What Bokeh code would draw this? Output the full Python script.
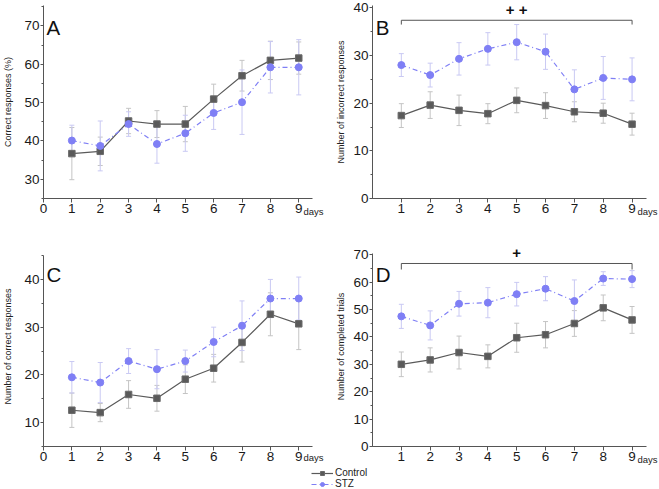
from bokeh.plotting import figure
from bokeh.layouts import column, row
from bokeh.models import (Range1d, FixedTicker, SingleIntervalTicker, Whisker, TeeHead,
                          ColumnDataSource, Label, Legend, LegendItem)
from bokeh.embed import file_html
from bokeh.resources import INLINE

# ---------------- data ----------------
days = [1, 2, 3, 4, 5, 6, 7, 8, 9]

a_control = [36.7, 37.3, 45.2, 44.4, 44.4, 50.9, 57.0, 61.0, 61.6]
a_control_err = [6.8, 3.7, 3.3, 3.5, 4.6, 3.9, 4.0, 5.0, 4.2]
a_stz = [40.1, 38.7, 44.4, 39.2, 42.0, 47.3, 50.1, 59.2, 59.2]
a_stz_err = [4.0, 6.5, 3.2, 5.0, 4.7, 4.3, 8.4, 6.7, 7.2]

b_control = [17.4, 19.6, 18.5, 17.8, 20.6, 19.5, 18.2, 17.9, 15.6]
b_control_err = [2.5, 2.8, 3.2, 2.1, 2.6, 2.7, 2.1, 2.1, 2.3]
b_stz = [28.0, 25.9, 29.3, 31.4, 32.8, 30.8, 22.9, 25.3, 25.0]
b_stz_err = [2.4, 2.5, 3.4, 3.4, 3.7, 3.7, 4.1, 4.5, 4.5]

c_control = [12.6, 12.1, 15.9, 15.1, 19.1, 21.4, 26.8, 32.7, 30.7]
c_control_err = [3.6, 1.9, 2.9, 2.7, 3.0, 2.9, 4.1, 4.5, 5.4]
c_stz = [19.5, 18.4, 22.9, 21.2, 22.9, 26.9, 30.3, 36.0, 36.0]
c_stz_err = [3.3, 4.2, 2.6, 4.1, 2.3, 3.1, 5.2, 4.0, 4.5]

d_control = [30.0, 31.6, 34.3, 32.9, 39.7, 40.8, 44.9, 50.6, 46.2]
d_control_err = [4.5, 4.4, 6.0, 4.2, 5.3, 4.8, 4.7, 4.7, 4.9]
d_stz = [47.5, 44.2, 52.1, 52.5, 55.6, 57.6, 53.1, 61.3, 61.1]
d_stz_err = [4.4, 5.3, 4.5, 5.5, 4.3, 4.4, 7.7, 2.5, 3.1]

series_names = ["Control", "STZ"]
y_titles = ["Correct responses (%)", "Number of incorrect responses",
            "Number of correct responses", "Number of completed trials"]
x_ticks_full = [0, 1, 2, 3, 4, 5, 6, 7, 8, 9]
x_ticks_days = [1, 2, 3, 4, 5, 6, 7, 8, 9]
x_label = "days"

bracket_days = [1, 9]
b_bracket = (36.5, 37.4)
d_bracket = (64.6, 66.8)
b_sig = "+ +"
d_sig = "+"

# ---------------- style ----------------
FONT = "Liberation Sans"
CTRL = "#5a5a5a"
STZC = "#7f7ff5"
CTRL_ERR = "#c4c4c4"
STZ_ERR = "#c9c9f3"
AXIS = "#555555"


def make_panel(letter, ytitle, yrange, ybounds, xticks, xend, ctrl, ctrl_err, stz, stz_err,
               width, height, bl, br, bt, bb, title_standoff, letter_y, days_standoff):
    p = figure(width=width, height=height, output_backend="svg", toolbar_location=None,
               x_range=Range1d(0, xend), y_range=Range1d(*yrange),
               min_border_left=bl, min_border_right=br, min_border_top=bt,
               min_border_bottom=bb)
    p.outline_line_color = None
    p.xgrid.visible = False
    p.ygrid.visible = False
    p.background_fill_color = "white"

    p.xaxis.ticker = FixedTicker(ticks=xticks, minor_ticks=[])
    p.yaxis.ticker = SingleIntervalTicker(interval=10, num_minor_ticks=2)
    for ax in (p.xaxis[0], p.yaxis[0]):
        ax.axis_line_color = AXIS
        ax.major_tick_line_color = AXIS
        ax.minor_tick_line_color = AXIS
        ax.major_tick_in = 0
        ax.minor_tick_in = 0
        ax.major_tick_out = 3
        ax.minor_tick_out = 2
        ax.major_label_text_font = FONT
        ax.major_label_text_font_size = "13.5px"
        ax.major_label_text_color = "#1a1a1a"
        ax.axis_label_text_font = FONT
        ax.axis_label_text_font_style = "normal"
        ax.axis_label_text_color = "#222222"
    p.xaxis.bounds = (0, 9.5)
    p.yaxis.bounds = ybounds
    p.xaxis.major_tick_out = 4
    p.xaxis.major_label_standoff = 1
    p.yaxis.major_label_standoff = 1
    p.yaxis.axis_label = ytitle
    p.yaxis.axis_label_text_font_size = "9px"
    p.yaxis.axis_label_standoff = title_standoff

    # "days" sits centred on the right end of the plot frame
    p.xaxis.axis_label = x_label
    p.xaxis.axis_label_align = "end"
    p.xaxis.axis_label_text_font_size = "9.5px"
    p.xaxis.axis_label_standoff = days_standoff

    # error bars
    for vals, errs, col in ((ctrl, ctrl_err, CTRL_ERR), (stz, stz_err, STZ_ERR)):
        src = ColumnDataSource(dict(x=days,
                                    upper=[v + e for v, e in zip(vals, errs)],
                                    lower=[v - e for v, e in zip(vals, errs)]))
        w = Whisker(source=src, base="x", upper="upper", lower="lower",
                    line_color=col, line_width=1,
                    upper_head=TeeHead(size=5, line_color=col, line_width=1),
                    lower_head=TeeHead(size=5, line_color=col, line_width=1))
        p.add_layout(w)

    p.line(days, ctrl, line_color=CTRL, line_width=1.2)
    p.scatter(days, ctrl, marker="square", size=6.5, fill_color=CTRL, line_color="#6a6a6a")
    p.line(days, stz, line_color=STZC, line_width=1.2, line_dash="5 3 1 3")
    p.scatter(days, stz, marker="circle", size=7, fill_color=STZC, line_color=STZC)

    p.add_layout(Label(x=0.11, y=letter_y, text=letter, text_font=FONT,
                       text_font_size="20.5px", text_color="#111111",
                       text_baseline="alphabetic", text_align="left"))
    return p


pa = make_panel("A", y_titles[0], (25, 75.3), (25, 75.3), x_ticks_full, 9.52,
                a_control, a_control_err, a_stz, a_stz_err,
                333, 226, 39, 20, 5, 28, 8, 69.5, -10)
pb = make_panel("B", y_titles[1], (0, 40.5), (0, 40.5), x_ticks_days, 9.535,
                b_control, b_control_err, b_stz, b_stz_err,
                326, 226, 39, 12, 5, 28, 4, 35.9, -10)
pc = make_panel("C", y_titles[2], (5, 46.9), (5, 45), x_ticks_full, 9.52,
                c_control, c_control_err, c_stz, c_stz_err,
                333, 241, 39, 20, 20, 21, 8, 41.0, -12)
pd = make_panel("D", y_titles[3], (0, 73.0), (0, 70.4), x_ticks_days, 9.535,
                d_control, d_control_err, d_stz, d_stz_err,
                326, 241, 39, 12, 20, 21, 4, 62.7, -10)

# significance brackets
for p, (lo, hi), sig, sig_y in ((pb, b_bracket, b_sig, 39.6), (pd, d_bracket, d_sig, 70.6)):
    p.line([bracket_days[0], bracket_days[0], bracket_days[1], bracket_days[1]],
           [lo, hi, hi, lo], line_color=AXIS, line_width=1)
    p.add_layout(Label(x=sum(bracket_days) / 2, y=sig_y, text=sig, text_font=FONT,
                       text_font_size="15px", text_font_style="bold", text_color="#111111",
                       text_align="center", text_baseline="middle"))

# legend strip
pl = figure(width=659, height=22, output_backend="svg", toolbar_location=None,
            x_range=Range1d(100, 101), y_range=Range1d(100, 101),
            x_axis_location=None, y_axis_location=None,
            min_border_left=311, min_border_right=0, min_border_top=0, min_border_bottom=0)
pl.outline_line_color = None
pl.xgrid.visible = False
pl.ygrid.visible = False
l1 = pl.line(days, a_control, line_color=CTRL, line_width=1.2)
s1 = pl.scatter(days, a_control, marker="square", size=6.5, fill_color=CTRL, line_color="#6a6a6a")
l2 = pl.line(days, a_stz, line_color=STZC, line_width=1.2, line_dash="5 3 1 3")
s2 = pl.scatter(days, a_stz, marker="circle", size=7, fill_color=STZC, line_color=STZC)
leg = Legend(items=[LegendItem(label=series_names[0], renderers=[l1, s1]),
                    LegendItem(label=series_names[1], renderers=[l2, s2])],
             location="top_left", orientation="vertical",
             glyph_width=22, glyph_height=10, label_height=10, label_standoff=2,
             spacing=0, padding=0, margin=0,
             label_text_font=FONT, label_text_font_size="10px", label_text_color="#222222",
             border_line_color=None, background_fill_alpha=0)
pl.add_layout(leg)

layout = column(row(pa, pb), row(pc, pd), pl)

open("out.html", "w").write(file_html(layout, INLINE))
